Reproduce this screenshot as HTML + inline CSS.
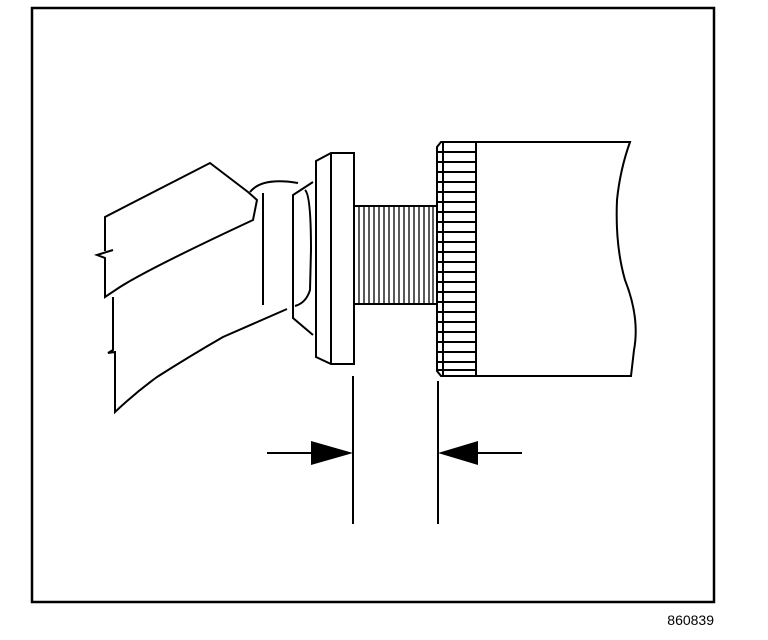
<!DOCTYPE html>
<html><head><meta charset="utf-8"><style>
html,body{margin:0;padding:0;background:#fff;}
svg{display:block;}
</style></head><body>
<svg width="768" height="640" viewBox="0 0 768 640" xmlns="http://www.w3.org/2000/svg">
<rect x="0" y="0" width="768" height="640" fill="#fff"/>
<rect x="32" y="8" width="682" height="594" fill="none" stroke="#000" stroke-width="2.5"/>
<g fill="none" stroke="#000" stroke-width="2" stroke-linejoin="miter">
<!-- upper jaw -->
<path d="M105,251 L105,217 L210,163 L248,192 L257,200 L253,220 Q150,268 120,287 L105,297 L105,258 L97,255 L113,250"/>
<!-- lower jaw -->
<path d="M113,297 L113,350 L108,353 L115,352 L115,412 Q135,393 157,377 Q190,356 223,337 L287,309"/>
<!-- arc -->
<path d="M250,192 Q262,177 298,183"/>
<line x1="263" y1="193" x2="263" y2="305"/>
<!-- cup -->
<path d="M313,182 L293,195 L293,318 L313,335"/>
<path d="M305,190 Q311,195 311,250 L310,290 Q306,303 295,306"/>
<!-- flange -->
<path d="M316,161 L331,153 L354,153 L354,364 L331,364 L316,357 Z"/>
<line x1="331" y1="153" x2="331" y2="364"/>
<!-- spindle -->
<rect x="354" y="206" width="83" height="98"/>
<!-- knurl -->
<path d="M441,142 L476,142 L476,376 L441,376 L437,371 L437,147 Z"/>
<!-- body -->
<path d="M476,142 L630,142 Q620,170 617,200 Q615,245 625,280 Q640,318 634,350 L631,376 L476,376"/>
<!-- dims -->
<line x1="353" y1="376" x2="353" y2="524"/>
<line x1="438" y1="381" x2="438" y2="524"/>
<line x1="267" y1="453" x2="312" y2="453"/>
<line x1="478" y1="453" x2="522" y2="453"/>
</g>
<g stroke="#000" stroke-width="1.3">
<line x1="359" y1="206" x2="359" y2="304"/><line x1="364" y1="206" x2="364" y2="304"/>
<line x1="369" y1="206" x2="369" y2="304"/><line x1="374" y1="206" x2="374" y2="304"/>
<line x1="379" y1="206" x2="379" y2="304"/><line x1="384" y1="206" x2="384" y2="304"/>
<line x1="389" y1="206" x2="389" y2="304"/><line x1="394" y1="206" x2="394" y2="304"/>
<line x1="399" y1="206" x2="399" y2="304"/><line x1="404" y1="206" x2="404" y2="304"/>
<line x1="409" y1="206" x2="409" y2="304"/><line x1="414" y1="206" x2="414" y2="304"/>
<line x1="419" y1="206" x2="419" y2="304"/><line x1="424" y1="206" x2="424" y2="304"/>
<line x1="429" y1="206" x2="429" y2="304"/><line x1="433" y1="206" x2="433" y2="304"/>
</g>
<g stroke="#000" stroke-width="2">
<line x1="437" y1="152" x2="476" y2="152"/><line x1="437" y1="162" x2="476" y2="162"/>
<line x1="437" y1="172" x2="476" y2="172"/><line x1="437" y1="182" x2="476" y2="182"/>
<line x1="437" y1="192" x2="476" y2="192"/><line x1="437" y1="202" x2="476" y2="202"/>
<line x1="437" y1="212" x2="476" y2="212"/><line x1="437" y1="222" x2="476" y2="222"/>
<line x1="437" y1="232" x2="476" y2="232"/><line x1="437" y1="242" x2="476" y2="242"/>
<line x1="437" y1="252" x2="476" y2="252"/><line x1="437" y1="262" x2="476" y2="262"/>
<line x1="437" y1="272" x2="476" y2="272"/><line x1="437" y1="282" x2="476" y2="282"/>
<line x1="437" y1="292" x2="476" y2="292"/><line x1="437" y1="302" x2="476" y2="302"/>
<line x1="437" y1="312" x2="476" y2="312"/><line x1="437" y1="322" x2="476" y2="322"/>
<line x1="437" y1="332" x2="476" y2="332"/><line x1="437" y1="342" x2="476" y2="342"/>
<line x1="437" y1="352" x2="476" y2="352"/><line x1="437" y1="362" x2="476" y2="362"/>
<line x1="437" y1="370" x2="476" y2="370"/>
<line x1="443" y1="142" x2="443" y2="376"/>
</g>
<polygon points="311,441 353,453 311,465" fill="#000"/>
<polygon points="478,441 438,453 478,465" fill="#000"/>
<text x="714" y="625" text-anchor="end" font-family="Liberation Sans, sans-serif" font-size="14" fill="#000">860839</text>
</svg>
</body></html>
